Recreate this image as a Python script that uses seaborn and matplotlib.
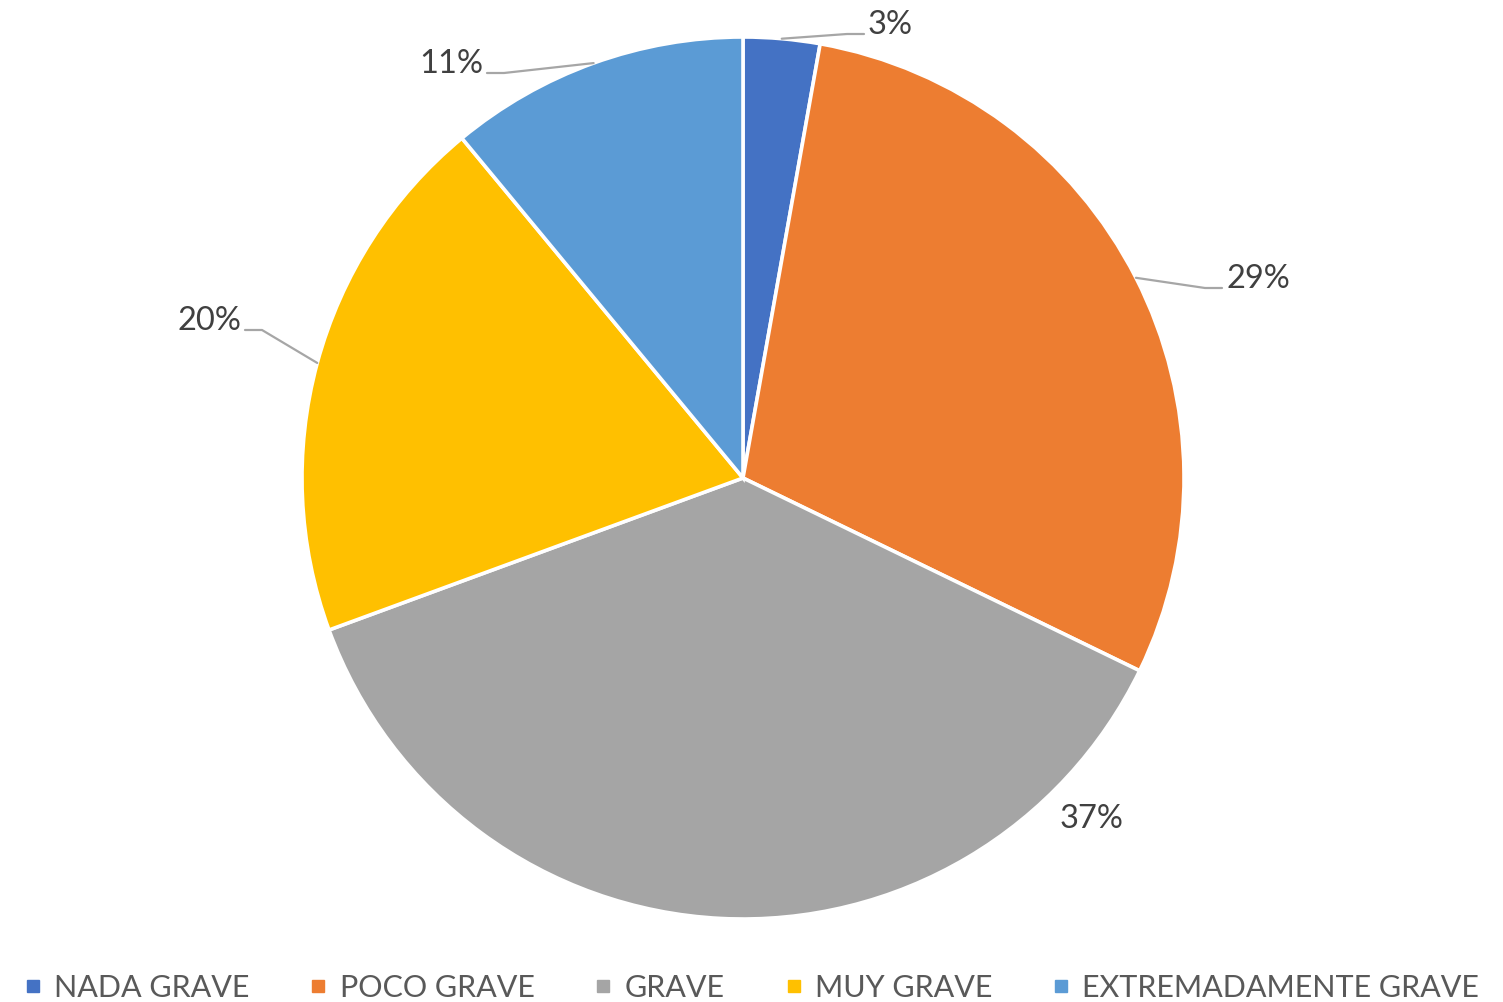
import numpy as np
import seaborn as sns
import matplotlib.pyplot as plt
from matplotlib.lines import Line2D

# DATA (percent)
categories = ['NADA GRAVE', 'POCO GRAVE', 'GRAVE', 'MUY GRAVE', 'EXTREMADAMENTE GRAVE']
values = [2.8, 29.4, 37.2, 19.6, 11.0]
colors = ['#4472C4', '#ED7D31', '#A5A5A5', '#FFC000', '#5B9BD5']

# label layout in pixel space: (x, baseline y, side), None side -> no leader line
label_pos = [(868, 34, 'left'), (1226, 288, 'left'), (1060, 828, None),
             (241, 330, 'right'), (483, 73, 'right')]

W, H = 1503, 1002
sns.set_theme(style='white')
plt.rcParams['font.family'] = ['Lato', 'DejaVu Sans']

fig = plt.figure(figsize=(W / 100, H / 100), dpi=100)
ax = fig.add_axes([0, 0, 1, 1])

cx, cy, r = 743, H - 478, 441
wedges, _ = ax.pie(values, colors=sns.color_palette(colors), startangle=90, counterclock=False,
                   center=(cx, cy), radius=r, frame=True,
                   wedgeprops=dict(edgecolor='white', linewidth=2.6))
ax.set_xlim(0, W)
ax.set_ylim(0, H)
ax.set_aspect('equal')
ax.axis('off')

for w, v, (lx, ly, side) in zip(wedges, values, label_pos):
    ang = np.deg2rad((w.theta1 + w.theta2) / 2)
    ex, ey = cx + r * np.cos(ang), cy + r * np.sin(ang)
    ty = H - ly
    ha = 'left' if side in ('left', None) else 'right'
    ax.text(lx, ty, f'{v:.0f}%', ha=ha, va='baseline', fontsize=23.5, color='#404040')
    if side is None:
        continue
    if side == 'left':
        xs = [ex, lx - 21, lx - 4]
    else:
        xs = [ex, lx + 21, lx + 4]
    ax.plot(xs, [ey, ty, ty], color='#A6A6A6', lw=1.6, solid_joinstyle='round')

handles = [Line2D([0], [0], marker='s', linestyle='', markersize=9, color=c) for c in colors]
fig.legend(handles, categories, loc='lower center', ncol=5, bbox_to_anchor=(0.5, -0.027),
           frameon=False, fontsize=22, labelcolor='#595959',
           handlelength=0.6, handletextpad=0.4, columnspacing=1.95)

fig.savefig('out.png', dpi=100)
